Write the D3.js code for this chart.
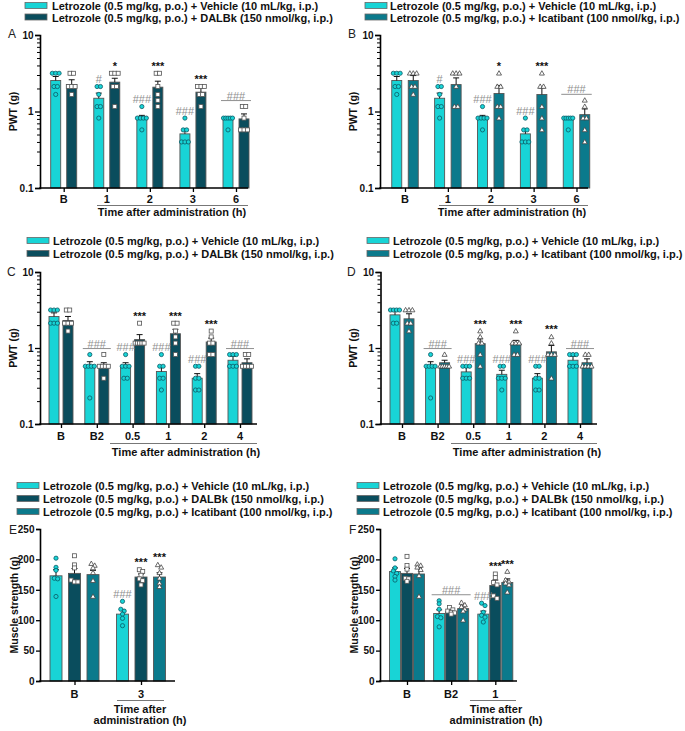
<!DOCTYPE html>
<html><head><meta charset="utf-8">
<script src="https://cdn.jsdelivr.net/npm/d3@7"></script>
<style>
body{margin:0;background:#fff}
svg{display:block}
text{font-family:"Liberation Sans",Arial,Helvetica,sans-serif}
</style>
</head><body>
<svg id="chart" width="685" height="731"></svg>
<script>
// ---------------- DATA ----------------
const seriesLabels = [
  "Letrozole (0.5 mg/kg, p.o.) + Vehicle (10 mL/kg, i.p.)",
  "Letrozole (0.5 mg/kg, p.o.) + DALBk (150 nmol/kg, i.p.)",
  "Letrozole (0.5 mg/kg, p.o.) + Icatibant (100 nmol/kg, i.p.)"
];
const seriesColors = ["#18d4d6", "#0a4d5d", "#0b7a8c"];
const seriesShapes = ["circle", "square", "triangle"];

// Panel A / B : PWT (g), time 1-6 h
const catsAB = ["B", "1", "2", "3", "6"];
const meanAB_veh = [2.54, 1.49, 0.84, 0.51, 0.83];
const semAB_veh  = [0.33, 0.25, 0.05, 0.08, 0.02];
const ptsAB_veh  = [[3.16,3.16,3.16,2.12,2.12,1.67],[2.12,2.12,1.67,1.16,1.16,0.82],[1.16,0.82,0.82,0.82,0.82,0.575],[0.82,0.575,0.575,0.40,0.40,0.40],[0.82,0.82,0.82,0.82,0.82,0.575]];
const meanA_dal = [2.25, 2.42, 2.08, 1.79, 0.80];
const semA_dal  = [0.35, 0.30, 0.41, 0.25, 0.13];
const ptsA_dal  = [[3.16,3.16,2.12,2.12,2.12,1.67],[3.16,3.16,3.16,2.12,2.12,1.16],[3.16,3.16,2.12,1.67,1.4,1.16],[2.12,2.12,2.12,1.67,1.67,1.16],[1.16,1.16,0.82,0.575,0.575,0.575]];
const meanB_ica = [2.54, 2.25, 1.72, 1.67, 0.91];
const semB_ica  = [0.41, 0.50, 0.47, 0.37, 0.17];
const ptsB_ica  = [[3.16,3.16,3.16,2.12,2.12,1.67],[3.16,3.16,3.16,2.12,1.16,1.16],[3.16,2.12,2.12,1.16,1.16,0.82],[3.16,2.12,2.12,1.16,0.82,0.575],[1.4,1.16,0.82,0.82,0.575,0.40]];

// Panel C / D : PWT (g), time 0.5-4 h
const catsCD = ["B", "B2", "0.5", "1", "2", "4"];
const meanC_veh = [2.60, 0.59, 0.59, 0.49, 0.40, 0.69];
const semC_veh  = [0.30, 0.07, 0.05, 0.07, 0.06, 0.09];
const ptsC_veh  = [[3.16,3.16,3.16,2.12,2.12,2.12],[0.82,0.575,0.575,0.575,0.575,0.22],[0.82,0.575,0.575,0.575,0.40,0.40],[0.82,0.575,0.575,0.40,0.40,0.28],[0.575,0.575,0.40,0.40,0.28,0.28],[0.82,0.82,0.82,0.575,0.575,0.575]];
const meanC_dal = [2.30, 0.59, 1.29, 1.54, 1.20, 0.64];
const semC_dal  = [0.30, 0.05, 0.21, 0.22, 0.15, 0.08];
const ptsC_dal  = [[3.16,3.16,2.12,2.12,2.12,1.67],[0.82,0.575,0.575,0.575,0.575,0.40],[2.12,1.16,1.16,1.16,1.16,1.16],[2.12,2.12,1.67,1.4,1.16,0.82],[1.67,1.4,1.16,1.16,0.82,0.82],[0.82,0.82,0.575,0.575,0.575,0.575]];
const meanD_veh = [2.73, 0.59, 0.485, 0.45, 0.40, 0.69];
const semD_veh  = [0.38, 0.07, 0.07, 0.06, 0.06, 0.09];
const ptsD_veh  = [[3.16,3.16,3.16,3.16,2.12,2.12],[0.82,0.575,0.575,0.575,0.575,0.22],[0.575,0.575,0.575,0.40,0.40,0.40],[0.575,0.575,0.40,0.40,0.40,0.28],[0.575,0.575,0.40,0.40,0.28,0.28],[0.82,0.82,0.82,0.575,0.575,0.575]];
const meanD_ica = [2.42, 0.64, 1.14, 1.14, 0.89, 0.64];
const semD_ica  = [0.40, 0.05, 0.18, 0.12, 0.19, 0.08];
const ptsD_ica  = [[3.16,3.16,3.16,2.12,2.12,1.67],[0.82,0.575,0.575,0.575,0.575,0.575],[1.67,1.4,1.16,1.16,0.82,0.575],[1.67,1.16,1.16,1.16,0.82,0.82],[1.4,1.16,0.82,0.82,0.82,0.40],[0.82,0.82,0.575,0.575,0.575,0.575]];

// Panel E : muscle strength (g), 3 h
const catsE = ["B", "3"];
const meanE_veh = [173, 110]; const semE_veh = [10, 7];
const ptsE_veh  = [[202,187,182,169,168,139],[131,118,115,110,103,91]];
const meanE_dal = [177, 171]; const semE_dal = [8, 5];
const ptsE_dal  = [[206,191,186,166,163,163],[183,180,174,168,165,158]];
const meanE_ica = [175, 171]; const semE_ica = [7, 7];
const ptsE_ica  = [[193,190,186,178,165,139],[191,187,178,169,161,155]];

// Panel F : muscle strength (g), B2 and 1 h
const catsF = ["B", "B2", "1"];
const meanF_veh = [180, 111, 110]; const semF_veh = [6, 6, 5];
const ptsF_veh  = [[201,186,181,177,172,166],[132,127,118,106,104,89],[128,124,113,108,105,97]];
const meanF_dal = [177, 114, 157]; const semF_dal = [8, 3, 9];
const ptsF_dal  = [[205,190,184,169,168,164],[121,117,115,113,112,110],[176,170,162,158,140,136]];
const meanF_ica = [176, 119, 162]; const semF_ica = [10, 5, 6];
const ptsF_ica  = [[192,190,187,183,173,139],[129,125,122,118,115,100],[180,166,163,161,158,146]];

// significance marks: group index, series slot (-1 = whole group), text
const sigA = [[1,0,"#"],[1,1,"*"],[2,0,"###"],[2,1,"***"],[3,0,"###"],[3,1,"***"],[4,-1,"###"]];
const sigB = [[1,0,"#"],[2,0,"###"],[2,1,"*"],[3,0,"###"],[3,1,"***"],[4,-1,"###"]];
const sigCD = [[1,-1,"###"],[2,0,"###"],[2,1,"***"],[3,0,"###"],[3,1,"***"],[4,0,"###"],[4,1,"***"],[5,-1,"###"]];
const sigE = [[1,0,"###"],[1,1,"***"],[1,2,"***"]];
const sigF = [[1,-1,"###"],[2,0,"###"],[2,1,"***"],[2,2,"***"]];

const logTicks = [0.1, 1, 10];
const linTicks = [0, 50, 100, 150, 200, 250];

// ---------------- PANELS ----------------
const panels = [
  {letter:"A", ox:0, log:true, cats:catsAB, series:[0,1],
   means:[meanAB_veh, meanA_dal], sems:[semAB_veh, semA_dal], pts:[ptsAB_veh, ptsA_dal], sig:sigA,
   yTop:35, yBot:188, axX:40, xEnd:248, c0:63.7, c1:236, barW:10, step:16,
   ul:[97,248], tickBase:203, ulY:205.5, title:["Time after administration (h)"], titleBase:[216], titleX:172,
   legBase:[10,21.5], swX:25, txtX:52, letterPos:[8,38], ylabel:"PWT (g)", ylabX:17},
  {letter:"B", ox:340, log:true, cats:catsAB, series:[0,2],
   means:[meanAB_veh, meanB_ica], sems:[semAB_veh, semB_ica], pts:[ptsAB_veh, ptsB_ica], sig:sigB,
   yTop:35, yBot:188, axX:40, xEnd:248, c0:65, c1:236.5, barW:10, step:16.5,
   ul:[99,248], tickBase:203, ulY:205.5, title:["Time after administration (h)"], titleBase:[216], titleX:172,
   legBase:[10,21.5], swX:25, txtX:50, letterPos:[8,38], ylabel:"PWT (g)", ylabX:17},
  {letter:"C", ox:0, log:true, cats:catsCD, series:[0,1],
   means:[meanC_veh, meanC_dal], sems:[semC_veh, semC_dal], pts:[ptsC_veh, ptsC_dal], sig:sigCD,
   yTop:272, yBot:424, axX:40, xEnd:257, c0:61, c1:240, barW:10, step:14,
   ul:[110,257], tickBase:440, ulY:443.5, title:["Time after administration (h)"], titleBase:[456], titleX:186,
   legBase:[245,258], swX:27, txtX:53, letterPos:[7,276], ylabel:"PWT (g)", ylabX:17},
  {letter:"D", ox:340, log:true, cats:catsCD, series:[0,2],
   means:[meanD_veh, meanD_ica], sems:[semD_veh, semD_ica], pts:[ptsD_veh, ptsD_ica], sig:sigCD,
   yTop:272, yBot:424, axX:40.5, xEnd:257, c0:62, c1:240, barW:10, step:14,
   ul:[111,257], tickBase:440, ulY:443.5, title:["Time after administration (h)"], titleBase:[456], titleX:187,
   legBase:[245,258], swX:27, txtX:53, letterPos:[7,276], ylabel:"PWT (g)", ylabX:17},
  {letter:"E", ox:0, log:false, cats:catsE, series:[0,1,2],
   means:[meanE_veh, meanE_dal, meanE_ica], sems:[semE_veh, semE_dal, semE_ica], pts:[ptsE_veh, ptsE_dal, ptsE_ica], sig:sigE,
   yTop:529, yBot:681, axX:40, xEnd:175, c0:74.5, c1:141, barW:12, step:18.5,
   ul:[117,164], tickBase:698, ulY:700.5, title:["Time after","administration (h)"], titleBase:[713,724], titleX:140,
   legBase:[490,503,516], swX:17, txtX:43, letterPos:[9,534], ylabel:"Muscle strength  (g)", ylabX:18},
  {letter:"F", ox:340, log:false, cats:catsF, series:[0,1,2],
   means:[meanF_veh, meanF_dal, meanF_ica], sems:[semF_veh, semF_dal, semF_ica], pts:[ptsF_veh, ptsF_dal, ptsF_ica], sig:sigF,
   yTop:529, yBot:681, axX:40, xEnd:177, c0:67, c1:155.3, barW:11, step:12,
   ul:[130,176], tickBase:698, ulY:700.5, title:["Time after","administration (h)"], titleBase:[713,724], titleX:156,
   legBase:[490,503,516], swX:17, txtX:43, letterPos:[9,534], ylabel:"Muscle strength  (g)", ylabX:18}
];

const svg = d3.select("#chart");

function swarm(vals, y, dx, maxW) {
  const arr = vals.map(v => ({v, py: y(v)})).sort((a, b) => a.py - b.py);
  const clusters = [];
  arr.forEach(d => {
    const c = clusters[clusters.length - 1];
    if (c && d.py - c[0].py < 3) c.push(d); else clusters.push([d]);
  });
  clusters.forEach(c => {
    const n = c.length;
    const step = n > 1 ? Math.min(dx, maxW / (n - 1)) : 0;
    c.forEach((d, i) => d.dx = (i - (n - 1) / 2) * step);
  });
  return arr;
}

function drawPanel(p) {
  const g = svg.append("g").attr("transform", `translate(${p.ox},0)`);
  const y = p.log
    ? d3.scaleLog().domain([0.1, 10]).range([p.yBot, p.yTop])
    : d3.scaleLinear().domain([0, 250]).range([p.yBot, p.yTop]);
  const xg = d3.scalePoint().domain(p.cats).range([p.c0, p.c1]);
  const ns = p.series.length;
  const xs = d3.scaleLinear().domain([0, ns - 1]).range([-(ns - 1) / 2 * p.step, (ns - 1) / 2 * p.step]);
  const bx = (gi, si) => xg(p.cats[gi]) + (ns > 1 ? xs(si) : 0);

  // legend
  p.series.forEach((s, i) => {
    const b = p.legBase[i];
    g.append("rect").attr("x", p.swX).attr("y", b - 7.5).attr("width", 22).attr("height", 6)
      .attr("fill", seriesColors[s]).attr("stroke", "#666").attr("stroke-width", 0.8);
    g.append("text").attr("x", p.txtX).attr("y", b).attr("font-size", 11).attr("font-weight", "bold")
      .attr("fill", "#111").text(seriesLabels[s]);
  });

  // panel letter
  g.append("text").attr("x", p.letterPos[0]).attr("y", p.letterPos[1]).attr("font-size", 12)
    .attr("fill", "#222").text(p.letter);

  // bars
  p.series.forEach((s, si) => {
    p.cats.forEach((c, gi) => {
      const m = p.means[si][gi];
      const cx = bx(gi, si);
      g.append("rect").attr("x", cx - p.barW / 2).attr("y", y(m)).attr("width", p.barW)
        .attr("height", p.yBot - y(m)).attr("fill", seriesColors[s]).attr("stroke", "#555").attr("stroke-width", 0.9);
    });
  });

  // error bars
  p.series.forEach((s, si) => {
    p.cats.forEach((c, gi) => {
      const m = p.means[si][gi], e = p.sems[si][gi];
      const cx = bx(gi, si);
      g.append("line").attr("x1", cx).attr("x2", cx).attr("y1", y(m)).attr("y2", y(m + e))
        .attr("stroke", "#111").attr("stroke-width", 1);
      g.append("line").attr("x1", cx - 3).attr("x2", cx + 3).attr("y1", y(m + e)).attr("y2", y(m + e))
        .attr("stroke", "#111").attr("stroke-width", 1);
    });
  });

  // points
  p.series.forEach((s, si) => {
    p.cats.forEach((c, gi) => {
      const cx = bx(gi, si);
      swarm(p.pts[si][gi], y, 3.4, p.barW - 1).forEach(d => {
        const px = cx + d.dx, py = d.py;
        if (seriesShapes[s] === "circle") {
          g.append("circle").attr("cx", px).attr("cy", py).attr("r", 2.1)
            .attr("fill", seriesColors[0]).attr("stroke", "#0a5a66").attr("stroke-width", 0.8);
        } else if (seriesShapes[s] === "square") {
          g.append("rect").attr("x", px - 2).attr("y", py - 2).attr("width", 4).attr("height", 4)
            .attr("fill", "#fff").attr("stroke", "#555").attr("stroke-width", 0.8);
        } else {
          g.append("path").attr("d", `M${px},${py - 2.6}L${px + 2.5},${py + 1.8}L${px - 2.5},${py + 1.8}Z`)
            .attr("fill", "#fff").attr("stroke", "#444").attr("stroke-width", 0.8);
        }
      });
    });
  });

  // significance
  p.sig.forEach(([gi, si, t]) => {
    const slots = si < 0 ? d3.range(ns) : [si];
    const top = d3.max(slots, k => Math.max(d3.max(p.pts[k][gi]), p.means[k][gi] + p.sems[k][gi]));
    const isHash = t[0] === "#";
    const col = isHash ? "#8f8f8f" : "#111";
    if (si < 0) {
      const x0 = bx(gi, 0) - p.barW / 2 - 2, x1 = bx(gi, ns - 1) + p.barW / 2 + 2;
      const ly = y(top) - 6;
      g.append("line").attr("x1", x0).attr("x2", x1).attr("y1", ly).attr("y2", ly)
        .attr("stroke", "#8f8f8f").attr("stroke-width", 1);
      g.append("text").attr("x", (x0 + x1) / 2).attr("y", ly - 1).attr("text-anchor", "middle")
        .attr("font-size", 11).attr("fill", col).text(t);
    } else {
      g.append("text").attr("x", bx(gi, si)).attr("y", y(top) - 3.5).attr("text-anchor", "middle")
        .attr("font-size", 11).attr("font-weight", isHash ? "normal" : "bold").attr("fill", col).text(t);
    }
  });

  // y axis
  const yAx = d3.axisLeft(y).tickSizeOuter(0);
  if (p.log) {
    yAx.tickValues(logTicks).tickFormat(d3.format("~g")).tickSize(5);
  } else {
    yAx.tickValues(linTicks).tickFormat(d3.format("d")).tickSize(4);
  }
  const ya = g.append("g").attr("transform", `translate(${p.axX},0)`).call(yAx);
  ya.select(".domain").attr("stroke", "#000").attr("stroke-width", 1.6);
  ya.selectAll(".tick line").attr("stroke", "#000").attr("stroke-width", 1.3);
  ya.selectAll(".tick text").attr("font-size", 10).attr("font-weight", "bold")
    .attr("fill", "#111").attr("font-family", "Liberation Sans, Arial, sans-serif").attr("dx", 1.5);
  if (p.log) {
    const minors = [];
    [0.1, 1].forEach(d => { for (let k = 2; k <= 9; k++) minors.push(d * k); });
    const ym = g.append("g").attr("transform", `translate(${p.axX},0)`)
      .call(d3.axisLeft(y).tickValues(minors).tickFormat("").tickSize(3).tickSizeOuter(0));
    ym.select(".domain").remove();
    ym.selectAll(".tick line").attr("stroke", "#000").attr("stroke-width", 1);
  }

  // x axis
  const xa = g.append("g").attr("transform", `translate(0,${p.yBot})`)
    .call(d3.axisBottom(xg).tickSize(4).tickSizeOuter(0));
  xa.select(".domain").remove();
  xa.selectAll(".tick line").attr("stroke", "#000").attr("stroke-width", 1.3);
  xa.selectAll(".tick text").remove();
  g.append("line").attr("x1", p.axX - 0.8).attr("x2", p.xEnd).attr("y1", p.yBot).attr("y2", p.yBot)
    .attr("stroke", "#000").attr("stroke-width", 1.6);
  p.cats.forEach(c => {
    g.append("text").attr("x", xg(c)).attr("y", p.tickBase).attr("text-anchor", "middle")
      .attr("font-size", 11).attr("font-weight", "bold").attr("fill", "#111").text(c);
  });

  // time underline & title
  g.append("line").attr("x1", p.ul[0]).attr("x2", p.ul[1]).attr("y1", p.ulY).attr("y2", p.ulY)
    .attr("stroke", "#777").attr("stroke-width", 1);
  p.title.forEach((t, i) => {
    g.append("text").attr("x", p.titleX).attr("y", p.titleBase[i]).attr("text-anchor", "middle")
      .attr("font-size", 11).attr("font-weight", "bold").attr("fill", "#111").text(t);
  });

  // y label
  g.append("text").attr("transform", `translate(${p.ylabX},${(p.yTop + p.yBot) / 2}) rotate(-90)`)
    .attr("text-anchor", "middle").attr("font-size", 10.5).attr("font-weight", "bold")
    .attr("fill", "#111").text(p.ylabel);
}

panels.forEach(drawPanel);
</script>
</body></html>
